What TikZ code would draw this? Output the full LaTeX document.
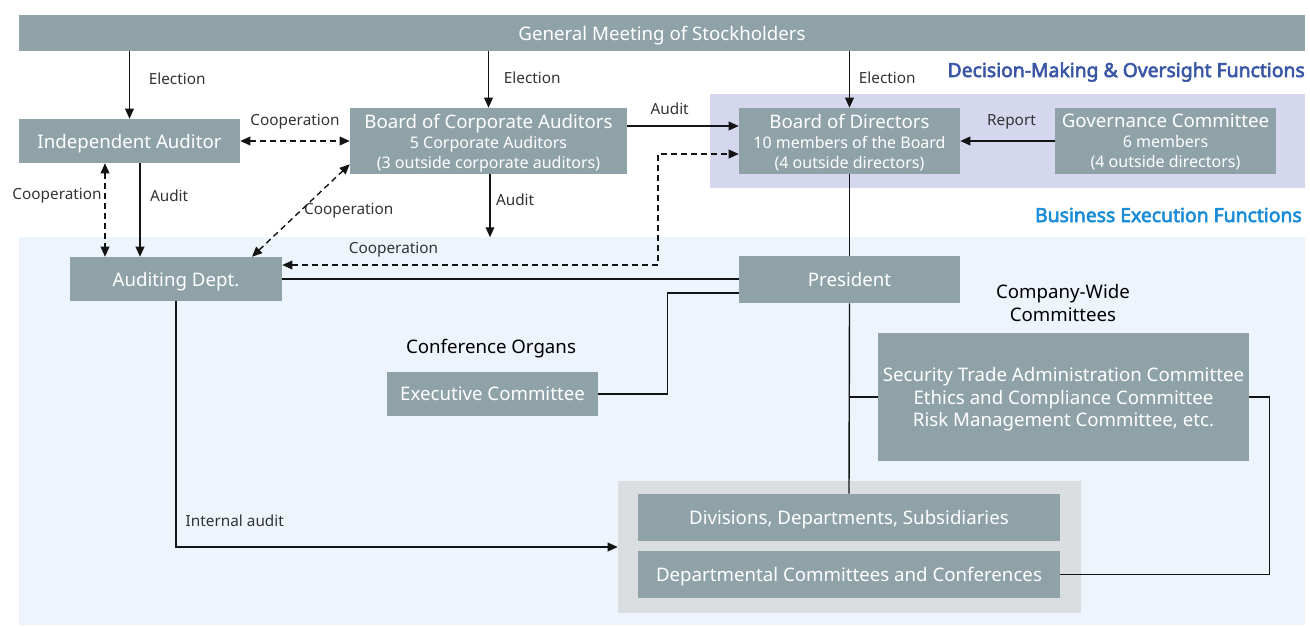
\documentclass[tikz,border=0pt]{standalone}
\usepackage{fontspec}
\setmainfont{Noto Sans}
\newfontfamily\headfont{Noto Sans}[FakeBold=3]
\usepackage{tikz}
\usetikzlibrary{arrows.meta, positioning, calc}
\usepackage{xcolor}
\definecolor{boxgray}{HTML}{8FA2A7}
\definecolor{execblue}{HTML}{EDF4FC}
\definecolor{oversight}{HTML}{D4D7EE}
\definecolor{groupgray}{HTML}{DADEE1}
\definecolor{lblgray}{HTML}{333333}
\definecolor{headblue}{HTML}{3A57A6}
\definecolor{execheadblue}{HTML}{1A8CD8}
\newcommand{\mainfs}{\fontsize{14}{17}\selectfont}
\newcommand{\subfs}{\fontsize{12}{14}\selectfont}
\newcommand{\lblfs}{\fontsize{11.5}{13}\selectfont}

\begin{document}
\begin{tikzpicture}[x=0.75pt, y=-0.75pt,
    orgbox/.style={fill=boxgray, text=white, inner sep=0pt, align=center, font=\mainfs, text depth=0pt},
    lbl/.style={font=\lblfs, text=lblgray, inner sep=0pt},
    head/.style={font=\mainfs, text=black, inner sep=0pt, align=center},
    fhead/.style={anchor=east, inner sep=0pt, font=\headfont\fontsize{14.5}{17}\selectfont},
    conn/.style={line width=1.05pt, draw=black!92},
    arr/.style={conn, -{Triangle[length=7.5pt, width=6.5pt]}},
    darr/.style={conn, dash pattern=on 4.5pt off 3pt,
      {Triangle[length=7.5pt, width=6.5pt]}-{Triangle[length=7.5pt, width=6.5pt]}}]
  \useasboundingbox (0,0) rectangle (1310,626);
  % function bands
  \fill[execblue] (19,237) rectangle (1305,625);
  \fill[oversight] (710,94) rectangle (1305,188);
  \node[fhead, text=headblue] (dmhead) at (1305,72) {Decision-Making \& Oversight Functions};
  \node[fhead, text=execheadblue] (exhead) at (1302,215) {Business Execution Functions};

  % organs
  \node[orgbox, minimum width=964.5pt, minimum height=27pt] (gm) at (662,33) {General Meeting of Stockholders};
  \node[orgbox, minimum width=165.75pt, minimum height=33pt] (ia) at (129.5,141) {Independent Auditor};
  \node[orgbox, minimum width=207.75pt, minimum height=49.5pt] (bca) at (488.5,141)
    {Board of Corporate Auditors\\[-2pt]{\subfs 5 Corporate Auditors}\\[-2pt]{\subfs (3 outside corporate auditors)}};
  \node[orgbox, minimum width=165.75pt, minimum height=49.5pt] (bod) at (849.5,141)
    {Board of Directors\\[-2pt]{\subfs 10 members of the Board}\\[-2pt]{\subfs (4 outside directors)}};
  \node[orgbox, minimum width=165.75pt, minimum height=49.5pt] (gc) at (1165.5,141)
    {Governance Committee\\[-2pt]{\subfs 6 members}\\[-2pt]{\subfs (4 outside directors)}};
  \node[orgbox, minimum width=159pt, minimum height=33pt] (ad) at (176,279) {Auditing Dept.};
  \node[orgbox, minimum width=165.75pt, minimum height=35.25pt] (pres) at (849.5,279.5) {President};
  \node[head] (cohead) at (491,349) {Conference Organs};
  \node[orgbox, minimum width=158.25pt, minimum height=33pt] (ec) at (492.5,394) {Executive Committee};
  \node[head] (cwhead) at (1063,303) {Company-Wide\\Committees};
  \node[orgbox, minimum width=278.25pt, minimum height=96pt] (cw) at (1063.5,397)
    {Security Trade Administration Committee\\Ethics and Compliance Committee\\Risk Management Committee, etc.};
  \node[fill=groupgray, inner sep=0pt, minimum width=347.25pt, minimum height=99pt] (grp) at (849.5,547) {};
  \node[orgbox, minimum width=316.5pt, minimum height=35.25pt] (div) at (849,517.5) {Divisions, Departments, Subsidiaries};
  \node[orgbox, minimum width=316.5pt, minimum height=35.25pt] (dep) at (849,574.5) {Departmental Committees and Conferences};

  % election
  \draw[arr] (gm.south -| ia.north) -- node[lbl, pos=0.4, right=14pt] (elect1) {Election} (ia.north);
  \draw[arr] (gm.south -| bca.north) -- node[lbl, pos=0.47, right=11pt] (elect2) {Election} (bca.north);
  \draw[arr] (gm.south -| bod.north) -- node[lbl, pos=0.47, right=6.5pt] (elect3) {Election} (bod.north);
  % audit and cooperation
  \draw[darr] (ia.east) -- node[lbl, above=8.5pt] (coop1) {Cooperation} (bca.west);
  \draw[arr] ($(bca.east)+(0,-15)$) -- node[lbl, above=8pt, xshift=-10pt] (aud1) {Audit} ($(bod.west)+(0,-15)$);
  \draw[arr] (gc.west) -- node[lbl, above=8.5pt, xshift=3pt] (rep) {Report} (bod.east);
  \draw[darr] ($(ia.south)+(-24.5,0)$) -- node[lbl, pos=0.35, left=2pt] (coop2) {Cooperation} ($(ad.north)+(-71,0)$);
  \draw[arr] ($(ia.south)+(10.5,0)$) -- node[lbl, pos=0.35, right=7pt] (aud2) {Audit} ($(ad.north)+(-36,0)$);
  \draw[darr] ($(ad.north)+(76,0)$) -- node[lbl, right=2pt] (coop3) {Cooperation} ($(bca.south west)+(0,-10)$);
  \coordinate (bcaend) at ($(bca.south)+(1.5,63)$);
  \draw[arr] ($(bca.south)+(1.5,0)$) -- node[lbl, pos=0.4, right=4pt] (aud3) {Audit} (bcaend);
  \coordinate (coopbend) at (658,154);
  \draw[darr] ($(ad.east)+(0,-14)$) -| node[lbl, pos=0.148, above=5pt] (coop4) {Cooperation} (coopbend) -- ($(bod.west)+(0,13)$);
  % execution lines
  \draw[conn] (bod.south) -- (pres.north);
  \draw[conn] (ad.east) -- (ad.east -| pres.west);
  \draw[conn] ($(pres.west)+(0,13.5)$) -| ($(ec.east)+(69,0)$) -- (ec.east);
  \draw[conn] (pres.south) -- (div.north);
  \draw[conn] (pres.south |- cw.west) -- (cw.west);
  \draw[conn] (cw.east) -- ++(20,0) |- (dep.east);
  \draw[arr] (ad.south) |- node[lbl, pos=0.5, above right=15pt and 6.75pt] (intaud) {Internal audit} (grp.west);
\end{tikzpicture}
\end{document}
